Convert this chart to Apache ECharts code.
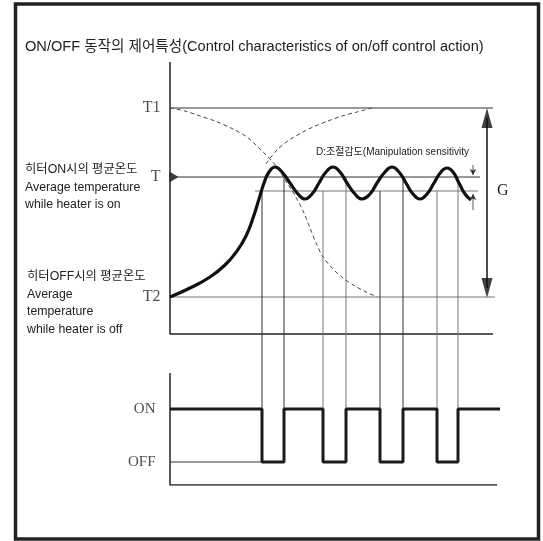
<!DOCTYPE html>
<html>
<head>
<meta charset="utf-8">
<script src="https://cdn.jsdelivr.net/npm/echarts@6/dist/echarts.min.js"></script>
<style>
  html, body { margin: 0; padding: 0; background: #fff; }
  #chart { width: 543px; height: 541px; }
</style>
</head>
<body>
<div id="chart"></div>
<script>
// time runs along x, height above the switch panel baseline along y
const timeEnd = 330
const levelT1 = 377
const levelT = 308
const levelBand = 294
const levelT2 = 188
const upperBase = 151
const upperTop = 423
const levelOn = 76
const levelOff = 23
const lowerTop = 112

// 온도 곡선
const tempCurve = [
  [0, 188], [20, 197], [40, 208], [55, 220], [67, 234], [76, 249], [83, 267],
  [89, 286], [94, 302], [99, 313], [105, 318], [112, 313], [120, 302], [128, 291],
  [135, 286], [142, 291], [149, 302], [156, 313], [163, 318], [170, 313], [177, 302],
  [185, 291], [192, 286], [200, 291], [207, 302], [215, 313], [222, 318], [229, 313],
  [236, 302], [243, 291], [250, 286], [257, 291], [264, 302], [271, 313], [277, 317],
  [283, 313], [289, 302], [295, 291], [301, 285]
]

// 점선 (하강 / 상승)
const fallCurve = [
  [0, 377], [15, 374], [30, 369], [45, 364], [63, 356], [77, 348], [87, 339],
  [95, 331], [102, 324], [109, 315], [115, 305], [121, 296], [127, 286], [134, 272],
  [140, 257], [146, 242], [153, 228], [163, 216], [173, 207], [185, 199], [196, 193],
  [207, 188]
]
const riseCurve = [
  [96, 321], [101, 328], [107, 335], [115, 342], [124, 348], [133, 353],
  [143, 358], [158, 364], [172, 369], [187, 373], [202, 377]
]

// heater switching times: off, on, off, on ...
const switchTimes = [92, 114, 153, 176, 210, 233, 267, 288]
const switchFrom = ['band', 'T', 'band', 'T', 'band', 'T', 'band', 'T']

const levelLabels = [
  { name: 'T1', value: levelT1 },
  { name: 'T', value: levelT },
  { name: 'T2', value: levelT2 }
]
const stateLabels = [
  { name: 'ON', value: levelOn },
  { name: 'OFF', value: levelOff }
]

const gArrowX = 317
const dArrowX = 303

const serif = 'Liberation Serif, DejaVu Serif, serif'
const sans = 'Liberation Sans, Noto Sans CJK KR, sans-serif'

const chart = echarts.init(document.getElementById('chart'))

const segment = (data, color, width, extra) => Object.assign({
  type: 'line',
  data: data,
  symbol: 'none',
  silent: true,
  animation: false,
  lineStyle: { color: color, width: width }
}, extra || {})

const labelSeries = (items, fontSize, distance) => ({
  type: 'scatter',
  silent: true,
  symbol: 'circle',
  symbolSize: 1,
  itemStyle: { color: 'rgba(0,0,0,0)' },
  data: items.map((d) => ({ name: d.name, value: [0, d.value] })),
  label: {
    show: true, position: 'left', distance: distance,
    formatter: (p) => p.name,
    fontFamily: serif, fontSize: fontSize, color: '#222'
  }
})

// on/off 신호
const signal = [[0, levelOn]]
let state = levelOn
switchTimes.forEach((t) => {
  const next = state === levelOn ? levelOff : levelOn
  signal.push([t, state], [t, next])
  state = next
})
signal.push([timeEnd, state])

const switchLines = switchTimes.map((t, i) => segment(
  [[t, switchFrom[i] === 'band' ? levelBand : levelT], [t, levelOn]],
  i % 4 === 2 || i % 4 === 3 ? '#777' : '#333', 1
))

const option = {
  animation: false,
  grid: { left: 170, right: 43, top: 62, bottom: 56 },
  xAxis: { type: 'value', min: 0, max: timeEnd, show: false },
  yAxis: { type: 'value', min: 0, max: upperTop, show: false },
  graphic: [
    {
      type: 'rect',
      shape: { x: 15.5, y: 4, width: 523, height: 535 },
      style: { fill: 'none', stroke: '#222', lineWidth: 3.5 }
    },
    {
      type: 'text', left: 25, top: 40,
      style: {
        text: 'ON/OFF 동작의 제어특성(Control characteristics of on/off control action)',
        font: '14.6px ' + sans, fill: '#222'
      }
    },
    {
      type: 'text', left: 25, top: 161,
      style: {
        text: '히터ON시의 평균온도\nAverage temperature\nwhile heater is on',
        font: '12.3px ' + sans, lineHeight: 17.5, fill: '#222'
      }
    },
    {
      type: 'text', left: 27, top: 268,
      style: {
        text: '히터OFF시의 평균온도\nAverage\ntemperature\nwhile heater is off',
        font: '12.3px ' + sans, lineHeight: 17.5, fill: '#222'
      }
    },
    {
      type: 'text', left: 497, top: 183,
      style: { text: 'G', font: '16px ' + serif, fill: '#222' }
    },
    {
      type: 'text', left: 316, top: 147,
      style: { text: 'D:조절감도(Manipulation sensitivity', font: '10px ' + sans, fill: '#222' }
    }
  ],
  series: [
    segment([[0, upperTop], [0, upperBase], [323, upperBase]], '#222', 1.5),
    segment([[0, lowerTop], [0, 0], [327, 0]], '#222', 1.5),
    segment([[0, levelT1], [323, levelT1]], '#333', 1),
    segment([[0, levelT], [310, levelT]], '#333', 1),
    segment([[85, levelBand], [308, levelBand]], '#777', 1),
    segment([[0, levelT2], [325, levelT2]], '#777', 1.2),
    segment(fallCurve, '#444', 1, { smooth: 0.3, lineStyle: { color: '#444', width: 1, type: [4, 3] } }),
    segment(riseCurve, '#444', 1, { smooth: 0.3, lineStyle: { color: '#444', width: 1, type: [4, 3] } }),
    ...switchLines,
    segment([[0, levelOff], [switchTimes[0], levelOff]], '#333', 1),
    segment(signal, '#1a1a1a', 3),
    segment(tempCurve, '#111', 3.2, { smooth: 0.5 }),
    segment([[gArrowX, levelT1 - 10], [gArrowX, levelT2 + 9]], '#111', 1.5),
    {
      type: 'scatter',
      silent: true,
      clip: false,
      symbol: 'triangle',
      itemStyle: { color: '#111' },
      data: [
        { value: [gArrowX, levelT1 - 10], symbolSize: [11, 20] },
        { value: [gArrowX, levelT2 + 9], symbolSize: [11, 20], symbolRotate: 180 },
        { value: [4, levelT], symbolSize: [11, 9], symbolRotate: -90 }
      ]
    },
    segment([
      { value: [dArrowX, 320], symbol: 'none' },
      { value: [dArrowX, 310], symbol: 'arrow', symbolSize: [5, 6], symbolRotate: 180 }
    ], '#333', 0.8, { symbol: 'none', itemStyle: { color: '#333' } }),
    segment([
      { value: [dArrowX, 275], symbol: 'none' },
      { value: [dArrowX, 291], symbol: 'arrow', symbolSize: [5, 6] }
    ], '#333', 0.8, { symbol: 'none', itemStyle: { color: '#333' } }),
    labelSeries(levelLabels, 16, 9),
    labelSeries(stateLabels, 15, 14)
  ]
}
chart.setOption(option)
</script>
</body>
</html>
